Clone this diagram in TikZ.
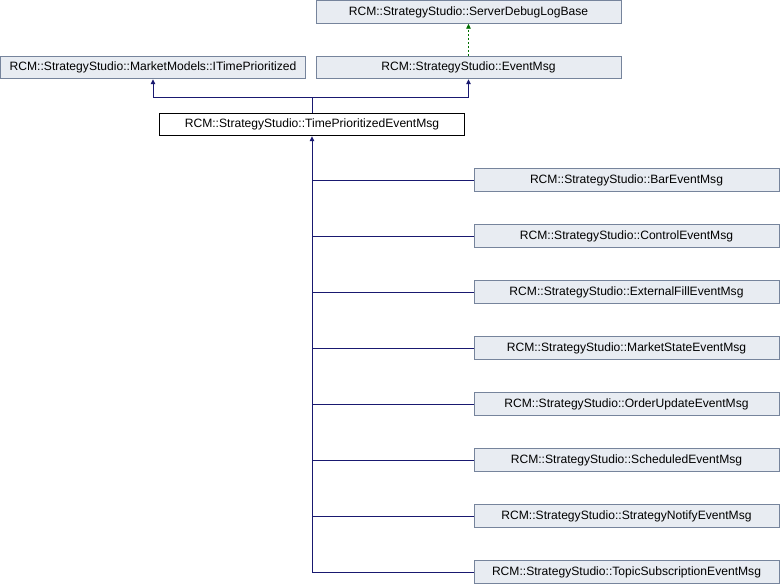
\documentclass[tikz,border=0pt]{standalone}
\usepackage{fontspec}
\setmainfont{Liberation Sans}
\usetikzlibrary{arrows.meta}
\definecolor{boxfill}{RGB}{232,236,242}
\definecolor{boxline}{RGB}{118,132,156}
\definecolor{edgeblue}{RGB}{25,25,112}
\definecolor{edgegreen}{RGB}{0,110,0}
\begin{document}
\begin{tikzpicture}[x=1pt,y=-1pt,
  cls/.style={draw=boxline,fill=boxfill,line width=0.9pt,minimum width=305pt,minimum height=22.5pt,inner sep=0pt,font=\fontsize{12.1}{14}\selectfont},
  cur/.style={cls,draw=black,fill=white},
  inh/.style={draw=edgeblue,line width=0.9pt,-{Triangle[length=5pt,width=4.5pt]}},
  plainedge/.style={draw=edgeblue,line width=0.9pt},
  impl/.style={draw=edgegreen,line width=0.9pt,dashed,dash pattern=on 2pt off 2pt,-{Triangle[length=5pt,width=4.5pt]}}]
\useasboundingbox[fill=white] (0,0) rectangle (780,584);
\node[cls] (sdlb) at (468.5,12) {RCM::StrategyStudio::ServerDebugLogBase};
\node[cls] (em) at (468.5,67.5) {RCM::StrategyStudio::EventMsg};
\node[cls] (itp) at (153,67.5) {RCM::StrategyStudio::MarketModels::ITimePrioritized};
\node[cur] (tp) at (312,124.5) {RCM::StrategyStudio::TimePrioritizedEventMsg};
\node[cls] (c1) at (626.5,180) {RCM::StrategyStudio::BarEventMsg};
\node[cls] (c2) at (626.5,236) {RCM::StrategyStudio::ControlEventMsg};
\node[cls] (c3) at (626.5,292) {RCM::StrategyStudio::ExternalFillEventMsg};
\node[cls] (c4) at (626.5,348) {RCM::StrategyStudio::MarketStateEventMsg};
\node[cls] (c5) at (626.5,404) {RCM::StrategyStudio::OrderUpdateEventMsg};
\node[cls] (c6) at (626.5,460) {RCM::StrategyStudio::ScheduledEventMsg};
\node[cls] (c7) at (626.5,516) {RCM::StrategyStudio::StrategyNotifyEventMsg};
\node[cls] (c8) at (626.5,572) {RCM::StrategyStudio::TopicSubscriptionEventMsg};
\coordinate (j) at (312,97);
\draw[impl] (em.north) -- (sdlb.south);
\draw[plainedge] (tp.north) -- (j);
\draw[inh] (j) -| (itp.south);
\draw[inh] (j) -| (em.south);
\draw[inh] (c8.west) -| (tp.south);
\foreach \c in {c1,c2,c3,c4,c5,c6,c7}{
  \draw[plainedge] (\c.west) -- (tp.south |- \c.west);
}
\end{tikzpicture}
\end{document}
